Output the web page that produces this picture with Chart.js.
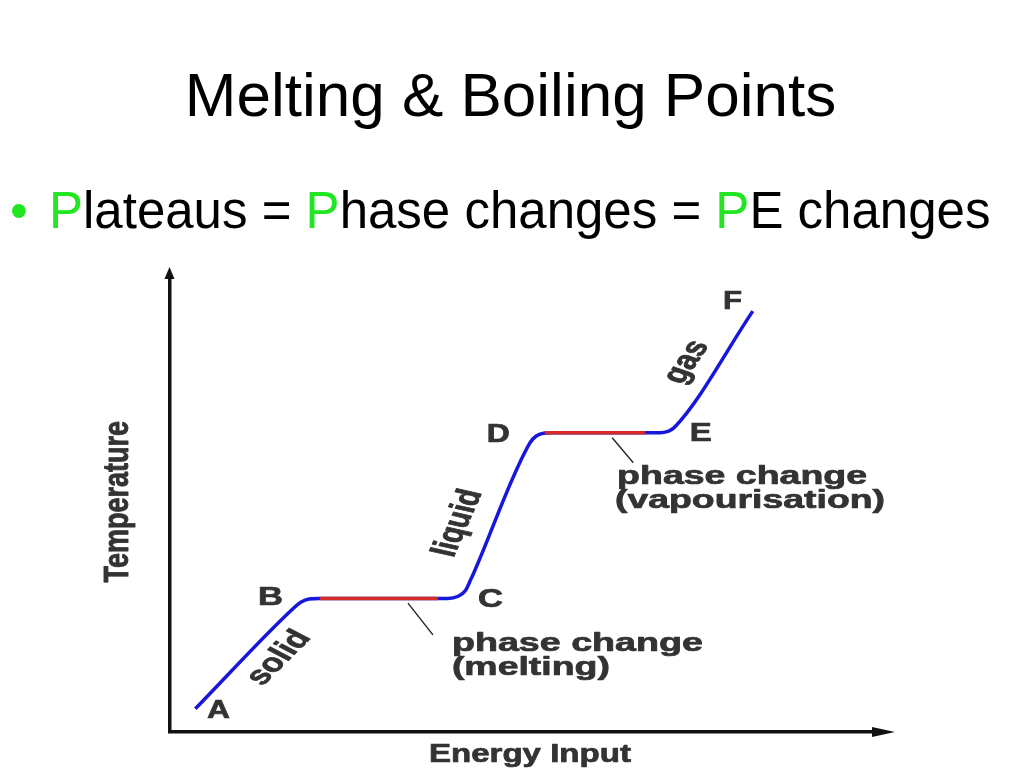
<!DOCTYPE html>
<html>
<head>
<meta charset="utf-8">
<script src="https://cdn.jsdelivr.net/npm/chart.js@4.4.1/dist/chart.umd.min.js"></script>
<style>
  html, body { margin: 0; padding: 0; background: #fff; }
  body { width: 1024px; height: 768px; overflow: hidden; position: relative;
         font-family: "Liberation Sans", Arial, Helvetica, sans-serif; }
  #title { position: absolute; left: 0; width: 1021px; top: 64px; text-align: center;
           font-size: 62px; line-height: 1; color: #000; white-space: nowrap; }
  #bullet { position: absolute; left: 10px; top: 185px; font-size: 51px; line-height: 1; color: #22e622; }
  #line1 { position: absolute; left: 49px; top: 185px; font-size: 51px; line-height: 1; color: #000; white-space: nowrap; }
  .g { color: #22e622; }
  #box { position: absolute; left: 0; top: 0; width: 1024px; height: 768px; }
</style>
</head>
<body>
<div id="title">Melting &amp; Boiling Points</div>
<div id="bullet">•</div>
<div id="line1"><span class="g">P</span>lateaus = <span class="g">P</span>hase changes = <span class="g">P</span>E changes</div>
<div id="box"><canvas id="c"></canvas></div>
<script>
// ---- data (energy input vs temperature, arbitrary 0-100 units) ----
const curveEnergy = [3.6, 17.6, 18.6, 19.8, 21.3, 39.5, 41.0, 42.0, 42.7, 51.2, 52.1, 53.1, 54.3, 69.7, 70.8, 71.7, 82.9];
const curveTemp   = [5.1, 27.3, 28.6, 29.3, 29.4, 29.4, 29.9, 31.1, 33.3, 63.7, 65.2, 65.8, 65.9, 65.9, 66.2, 67.0, 92.7];
const meltEnergy  = [21.3, 38.1];
const meltTemp    = [29.4, 29.4];
const boilEnergy  = [53.3, 67.6];
const boilTemp    = [65.9, 65.9];
const pointLabels = ['A', 'B', 'C', 'D', 'E', 'F'];
const phaseLabels = ['solid', 'liquid', 'gas'];
const xAxisTitle = 'Energy Input';
const yAxisTitle = 'Temperature';
const meltText = ['phase change', '(melting)'];
const boilText = ['phase change', '(vapourisation)'];

const toXY = (xs, ys) => xs.map((x, i) => ({ x: x, y: ys[i] }));

// ---- annotation layout (in data units of the scales) ----
const BOLD = 'bold 25px "Liberation Sans", Arial, Helvetica, sans-serif';
const TXT = '#333333';
const letterPos = [[6.9, 4.6, 23], [14.3, 29.6, 25], [45.6, 29.1, 25], [46.7, 65.4, 23], [75.5, 65.6, 22], [80.0, 94.6, 19]];
const phasePos = [[15.5, 16.3, -54], [41.0, 46.0, -72.5], [73.5, 81.5, -64]];
const notePos = {
  melt: { lines: [[40.1, 17.8, 251], [40.1, 12.5, 158]], leader: [[33.85, 28.4], [37.4, 21.4]] },
  boil: { lines: [[63.6, 54.6, 250], [63.3, 49.3, 270]], leader: [[62.9, 64.8], [65.9, 59.3]] }
};

function drawText(ctx, text, x, y, o) {
  ctx.save();
  ctx.translate(x, y);
  ctx.font = o.font || BOLD;
  ctx.fillStyle = o.color || TXT;
  ctx.strokeStyle = o.color || TXT;
  let s = o.sx || 1;
  if (o.width) s = o.width / ctx.measureText(text).width;
  ctx.scale(s, 1);
  ctx.rotate((o.angle || 0) * Math.PI / 180);
  ctx.textAlign = o.align || 'left';
  ctx.textBaseline = o.baseline || 'alphabetic';
  ctx.fillText(text, 0, 0);
  ctx.lineWidth = 0.7;
  ctx.lineJoin = 'round';
  ctx.strokeText(text, 0, 0);
  ctx.restore();
}

const annotate = {
  id: 'annotate',
  afterDraw(chart) {
    const ctx = chart.ctx, xs = chart.scales.x, ys = chart.scales.y, a = chart.chartArea;
    const px = v => xs.getPixelForValue(v), py = v => ys.getPixelForValue(v);
    // arrow heads on axes
    ctx.save();
    ctx.fillStyle = '#111';
    ctx.beginPath();
    ctx.moveTo(a.left - 0.5, a.top - 11); ctx.lineTo(a.left - 5.5, a.top + 1); ctx.lineTo(a.left + 4.5, a.top + 1); ctx.closePath(); ctx.fill();
    ctx.beginPath();
    ctx.moveTo(a.right + 22, a.bottom); ctx.lineTo(a.right - 1, a.bottom - 5); ctx.lineTo(a.right - 1, a.bottom + 5); ctx.closePath(); ctx.fill();
    ctx.restore();
    // point letters
    pointLabels.forEach((t, i) => {
      const p = letterPos[i];
      drawText(ctx, t, px(p[0]), py(p[1]), { align: 'center', baseline: 'middle', width: p[2] });
    });
    // phase labels along the curve
    phaseLabels.forEach((t, i) => {
      const p = phasePos[i];
      drawText(ctx, t, px(p[0]), py(p[1]), { align: 'center', baseline: 'middle', sx: 1.38, angle: p[2], font: 'bold 26px "Liberation Sans", Arial, sans-serif' });
    });
    // notes with leader lines
    [[notePos.melt, meltText], [notePos.boil, boilText]].forEach(([n, txt]) => {
      ctx.save();
      ctx.strokeStyle = '#222'; ctx.lineWidth = 1.4;
      ctx.beginPath();
      ctx.moveTo(px(n.leader[0][0]), py(n.leader[0][1]));
      ctx.lineTo(px(n.leader[1][0]), py(n.leader[1][1]));
      ctx.stroke();
      ctx.restore();
      txt.forEach((t, i) => {
        const l = n.lines[i];
        drawText(ctx, t, px(l[0]), py(l[1]), { width: l[2] });
      });
    });
    // axis titles
    drawText(ctx, xAxisTitle, px(51.2), a.bottom + 30, { align: 'center', width: 202 });
    drawText(ctx, yAxisTitle, a.left - 52, py(50.7), { align: 'center', baseline: 'middle', angle: -90, sx: 1.3, font: 'bold 27px "Liberation Sans", Arial, sans-serif' });
  }
};

const lineBase = { pointRadius: 0, borderWidth: 3.5, fill: false, cubicInterpolationMode: 'monotone' };

new Chart(document.getElementById('c'), {
  type: 'line',
  data: {
    datasets: [
      Object.assign({ label: 'heating curve', data: toXY(curveEnergy, curveTemp), borderColor: '#1616dc', order: 2 }, lineBase),
      Object.assign({ label: 'melting', data: toXY(meltEnergy, meltTemp), borderColor: '#d42a2a', order: 1 }, lineBase),
      Object.assign({ label: 'vapourisation', data: toXY(boilEnergy, boilTemp), borderColor: '#d42a2a', order: 1 }, lineBase)
    ]
  },
  options: {
    responsive: true,
    maintainAspectRatio: false,
    animation: false,
    devicePixelRatio: 1,
    layout: { padding: { left: 170, right: 151, top: 278, bottom: 36 } },
    plugins: { legend: { display: false }, tooltip: { enabled: false }, title: { display: false } },
    scales: {
      x: { type: 'linear', min: 0, max: 100,
           ticks: { display: false }, grid: { display: false, drawTicks: false },
           border: { display: true, color: '#111', width: 3.5 } },
      y: { type: 'linear', min: 0, max: 100,
           ticks: { display: false }, grid: { display: false, drawTicks: false },
           border: { display: true, color: '#111', width: 3.5 } }
    }
  },
  plugins: [annotate]
});
</script>
</body>
</html>
